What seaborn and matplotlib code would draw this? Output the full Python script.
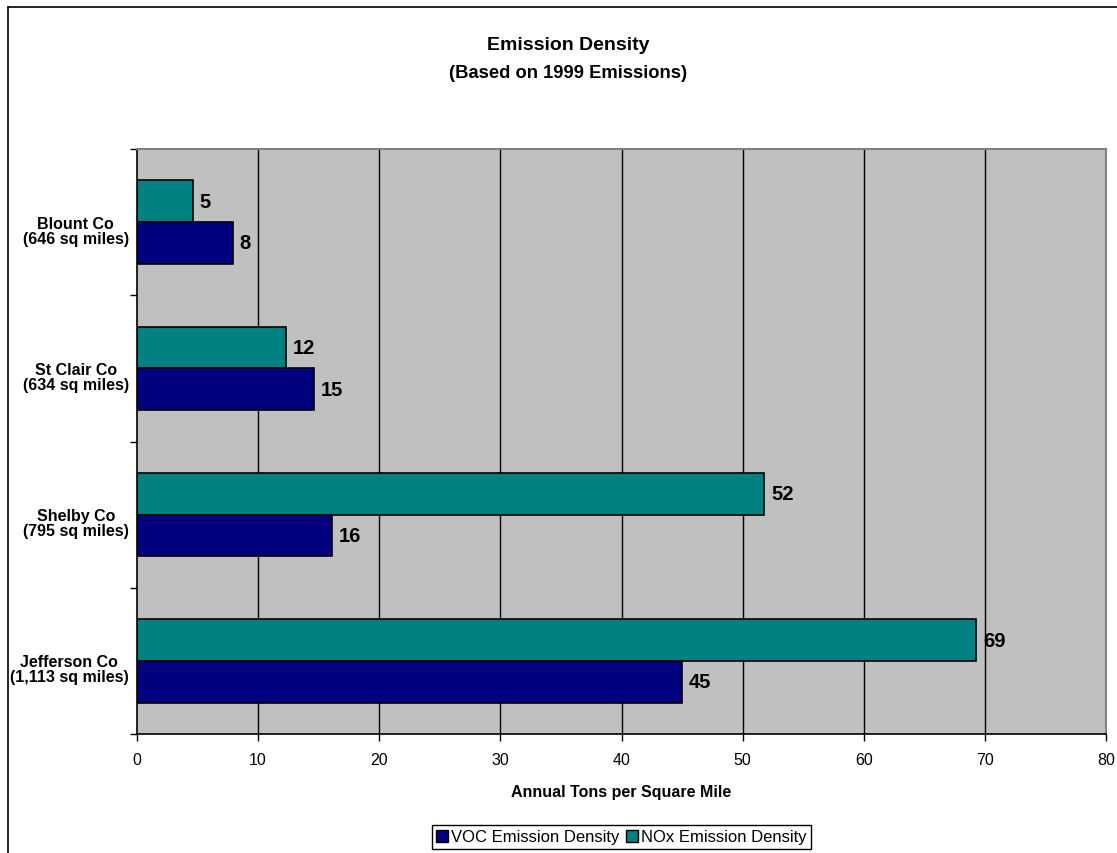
import matplotlib
matplotlib.use("Agg")
import matplotlib.pyplot as plt
import matplotlib.font_manager as fm
import matplotlib.transforms as mtrans
from matplotlib.lines import Line2D
from matplotlib.patches import Patch
import numpy as np
import pandas as pd
import seaborn as sns

# ---- data ----
counties = ["Blount Co\n(646 sq miles)", "St Clair Co\n(634 sq miles)",
            "Shelby Co\n(795 sq miles)", "Jefferson Co\n(1,113 sq miles)"]
voc_density = [7.9, 14.6, 16.1, 45.0]
nox_density = [4.6, 12.3, 51.8, 69.3]
series_names = ["VOC Emission Density", "NOx Emission Density"]
x_ticks = [0, 10, 20, 30, 40, 50, 60, 70, 80]

df = pd.DataFrame({
    "County": counties * 2,
    "Density": voc_density + nox_density,
    "Series": [series_names[0]] * 4 + [series_names[1]] * 4,
})

sns.set_theme(style="white")
plt.rcParams["font.family"] = ["Liberation Sans", "DejaVu Sans"]
for k in ["text.color", "axes.labelcolor", "xtick.color", "ytick.color"]:
    plt.rcParams[k] = "black"

names = {f.name for f in fm.fontManager.ttflist}
if "Liberation Sans Narrow" in names:
    val_family, val_size = ["Liberation Sans Narrow", "Liberation Sans"], 16
else:
    val_family, val_size = ["Liberation Sans", "DejaVu Sans"], 14.5

W, H = 1117, 854
fig = plt.figure(figsize=(W / 100, H / 100), dpi=100)
fig.patch.set_facecolor("white")
ax = fig.add_axes([137 / W, 1 - 735 / H, (1106 - 137) / W, (735 - 150) / H])
ax.set_facecolor("#C0C0C0")

colors = {series_names[0]: "#000080", series_names[1]: "#008080"}
sns.barplot(data=df, y="County", x="Density", hue="Series",
            hue_order=[series_names[1], series_names[0]], order=counties,
            palette=colors, orient="h", width=0.57, errorbar=None,
            edgecolor="black", linewidth=1.2, saturation=1, legend=False, ax=ax)

for cont in ax.containers:
    ax.bar_label(cont, fmt="%.0f", padding=5, fontsize=val_size,
                 fontweight="bold", family=val_family, color="black")

ax.set_xlim(0, 80)
ax.set_ylim(3.5, -0.5)
ax.set_xticks(x_ticks)
ax.set_xticklabels([str(t) for t in x_ticks], fontsize=11.5)
ax.tick_params(axis="x", direction="out", length=5, width=1, color="black",
               pad=8, bottom=True)
for xv in x_ticks[1:-1]:
    ax.axvline(xv, color="black", lw=1, zorder=0.5)
ax.set_axisbelow(True)

ax.set_yticks([-0.5, 0.5, 1.5, 2.5, 3.5])
ax.set_yticklabels([])
ax.tick_params(axis="y", which="major", direction="out", length=5, width=1,
               color="black", left=True)
ax.set_yticks(range(len(counties)), minor=True)
ax.set_yticklabels(counties, minor=True, fontsize=11.5, fontweight="bold",
                   ha="right", multialignment="center", linespacing=1.0)
ax.tick_params(axis="y", which="minor", length=0, pad=6)
shift = mtrans.ScaledTranslation(0, -7 / 100, fig.dpi_scale_trans)
for lab in ax.get_yticklabels(minor=True):
    lab.set_transform(lab.get_transform() + shift)

ax.set_ylabel("")
ax.set_xlabel("Annual Tons per Square Mile", fontsize=11.5, fontweight="bold")
ax.xaxis.set_label_coords(0.5, -(793 - 735) / (735 - 150))
ax.xaxis.label.set_va("center")

for s in ["left", "bottom"]:
    ax.spines[s].set_color("black")
    ax.spines[s].set_linewidth(1.2)
for s in ["top", "right"]:
    ax.spines[s].set_color("#808080")
    ax.spines[s].set_linewidth(1.5)

fig.text(568 / W, 1 - 45 / H, "Emission Density", ha="center", va="center",
         fontsize=14, fontweight="bold")
fig.text(568 / W, 1 - 74 / H, "(Based on 1999 Emissions)", ha="center",
         va="center", fontsize=13.2, fontweight="bold")

handles = [Patch(facecolor=colors[n], edgecolor="black", lw=1) for n in series_names]
leg = fig.legend(handles, series_names, loc="center",
                 bbox_to_anchor=(621.5 / W, 1 - 838 / H), ncol=2, frameon=True,
                 fancybox=False, edgecolor="black", framealpha=1, fontsize=12,
                 handlelength=0.7, handleheight=0.7, handletextpad=0.2,
                 columnspacing=0.4, borderpad=0.25, borderaxespad=0)
leg.get_frame().set_linewidth(1)

fig.add_artist(Line2D([7.5 / W, 7.5 / W], [0, 1 - 8 / H], transform=fig.transFigure,
                      color="black", lw=1.2))
fig.add_artist(Line2D([7.5 / W, 1], [1 - 8 / H, 1 - 8 / H], transform=fig.transFigure,
                      color="black", lw=1.2))

fig.savefig("out.png", dpi=100, facecolor="white")
